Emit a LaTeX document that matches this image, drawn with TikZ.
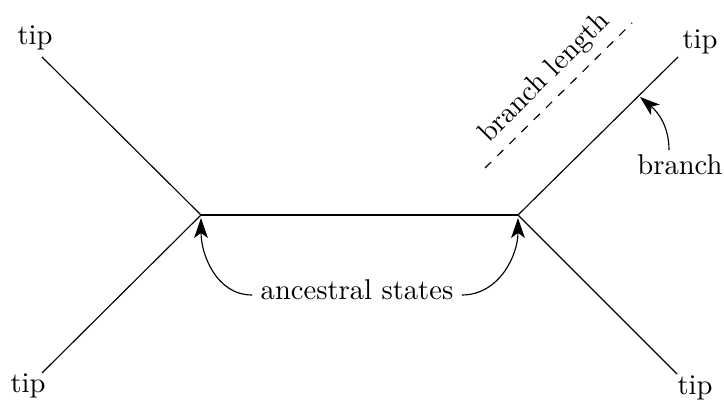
\documentclass[tikz,border=0pt]{standalone}
\usetikzlibrary{arrows.meta,calc}
\begin{document}
\begin{tikzpicture}[x=0.35pt,y=0.35pt,
  branchline/.style={line width=0.4pt},
  pointer/.style={-{Stealth[length=7pt,width=4.8pt,inset=1.8pt]}, line width=0.4pt},
  lbl/.style={inner sep=0pt}]
\useasboundingbox (0,0) rectangle (724,400);
% internal (ancestral) nodes
\coordinate (L) at (201,185);
\coordinate (R) at (518,185);
% tip ends of the branches
\coordinate (tUL) at (42,343);
\coordinate (tLL) at (42,27);
\coordinate (tUR) at (678,343);
\coordinate (tLR) at (677,26);
% tree
\draw[branchline] (tUL) -- (L) -- (tLL);
\draw[branchline] (L) -- (R);
\draw[branchline] (tUR) -- (R) -- (tLR);
% tip labels
\node[lbl] (nUL) at (35,362) {tip};
\node[lbl] (nLL) at (28,14) {tip};
\node[lbl] (nUR) at (700,358) {tip};
\node[lbl] (nLR) at (695,12) {tip};
% branch length marker
\coordinate (dA) at (485,232);
\coordinate (dB) at (632,377);
\draw[dashed] (dA) -- (dB);
\node[lbl, rotate=45] (blen) at (545,322) {branch length};
% branch annotation
\coordinate (bp) at (640,303);
\node[lbl] (nbranch) at (680,235) {branch};
\coordinate (bs) at (669,250);
\draw[pointer] (bs) to[out=90,in=-40] (bp);
% ancestral states annotation
\node[lbl] (anc) at (357,110) {ancestral states};
\coordinate (aL) at (201,182);
\coordinate (aR) at (518,182);
\draw[pointer] ([shift={(-8,-5)}]anc.west) to[out=180,in=-90] (aL);
\draw[pointer] ([shift={(8,-5)}]anc.east) to[out=0,in=-90] (aR);
\end{tikzpicture}
\end{document}
